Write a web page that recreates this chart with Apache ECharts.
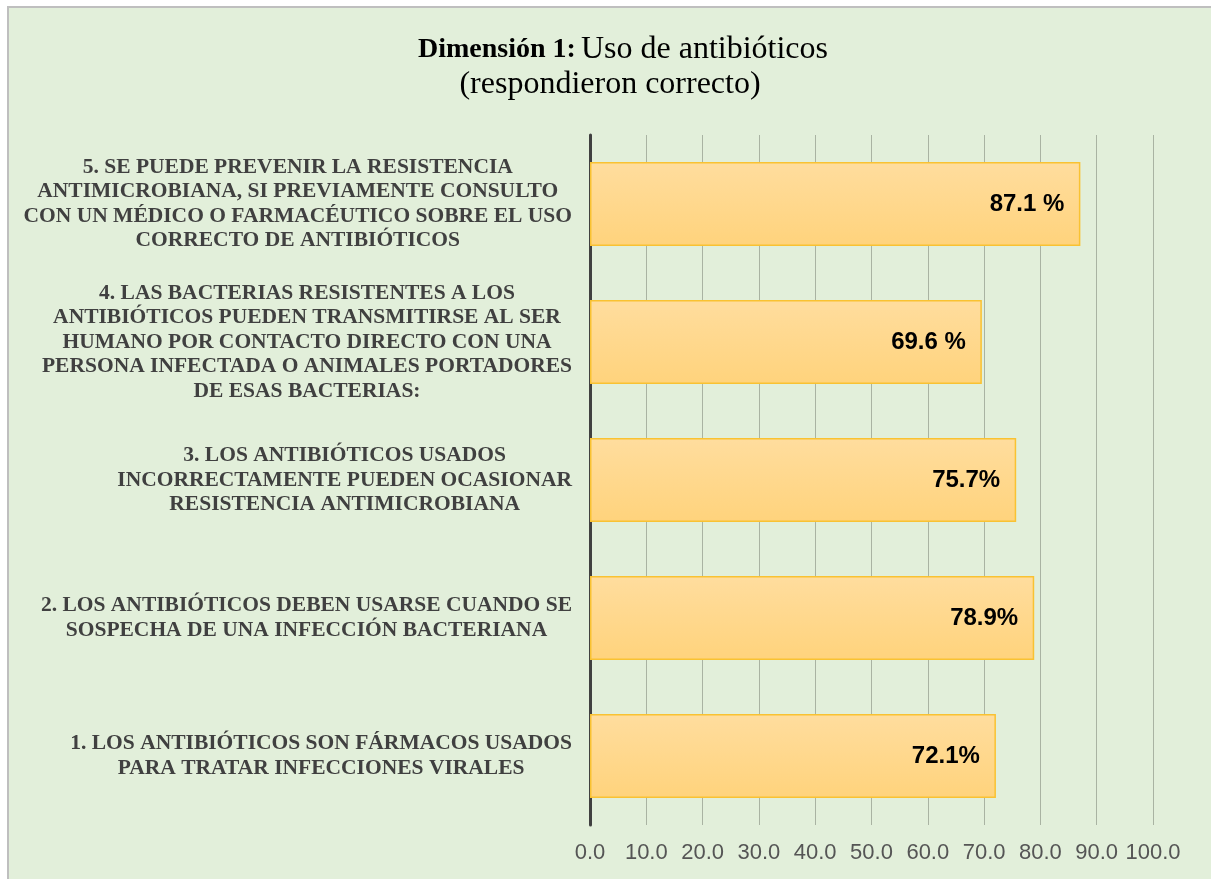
<!DOCTYPE html>
<html>
<head>
<meta charset="utf-8">
<script src="https://cdn.jsdelivr.net/npm/echarts@6/dist/echarts.min.js"></script>
<style>
	html, body { margin: 0; padding: 0; background: #ffffff; overflow: hidden; }
	#wrap {
		position: absolute; left: 7px; top: 6px;
		border-left: 2px solid #bfbfbf; border-top: 2px solid #bfbfbf;
	}
	#chart { width: 1202px; height: 871px; }
</style>
</head>
<body>
<div id="wrap"><div id="chart"></div></div>
<script>
	// preguntas (de abajo hacia arriba)
	var preguntas = [
		'1. LOS ANTIBIÓTICOS SON FÁRMACOS USADOS\nPARA TRATAR INFECCIONES VIRALES',
		'2. LOS ANTIBIÓTICOS DEBEN USARSE CUANDO SE\nSOSPECHA DE UNA INFECCIÓN BACTERIANA',
		'3. LOS ANTIBIÓTICOS USADOS\nINCORRECTAMENTE PUEDEN OCASIONAR\nRESISTENCIA ANTIMICROBIANA',
		'4. LAS BACTERIAS RESISTENTES A LOS\nANTIBIÓTICOS PUEDEN TRANSMITIRSE AL SER\nHUMANO POR CONTACTO DIRECTO CON UNA\nPERSONA INFECTADA O ANIMALES PORTADORES\nDE ESAS BACTERIAS:',
		'5. SE PUEDE PREVENIR LA RESISTENCIA\nANTIMICROBIANA, SI PREVIAMENTE CONSULTO\nCON UN MÉDICO O FARMACÉUTICO SOBRE EL USO\nCORRECTO DE ANTIBIÓTICOS'
	];
	var porcentajes = [72.1, 78.9, 75.7, 69.6, 87.1];
	var etiquetas = ['72.1%', '78.9%', '75.7%', '69.6 %', '87.1 %'];

	var myChart = echarts.init(document.getElementById('chart'));

	myChart.setOption({
		backgroundColor: '#e2efda',
		animation: false,
		title: {
			left: 'center',
			top: 19,
			text: '{b|Dimensión 1:} {n|Uso de antibióticos}\n{n|(respondieron correcto)}',
			textStyle: {
				rich: {
					b: { fontFamily: 'Liberation Serif', fontWeight: 'bold', fontSize: 28, color: '#000', lineHeight: 35, padding: [0, 0, 0, 26] },
					n: { fontFamily: 'Liberation Serif', fontWeight: 'normal', fontSize: 32, color: '#000', lineHeight: 35 }
				}
			}
		},
		grid: {
			left: 581,
			right: 58,
			top: 127,
			bottom: 54
		},
		xAxis: {
			type: 'value',
			min: 0,
			max: 100,
			interval: 10,
			axisLine: { show: false },
			axisTick: { show: false },
			axisLabel: {
				margin: 17,
				fontFamily: 'Liberation Sans',
				fontSize: 22,
				color: '#555555',
				formatter: function (v) { return v.toFixed(1); }
			},
			splitLine: { lineStyle: { color: '#a9b3a2', width: 1 } }
		},
		yAxis: {
			type: 'category',
			data: preguntas,
			axisLine: { show: true, lineStyle: { color: '#404040', width: 3 } },
			axisTick: { show: false },
			axisLabel: {
				margin: 18,
				align: 'right',
				formatter: function (v) {
					return v.split('\n').map(function (l) { return '{c|' + l + '}'; }).join('\n');
				},
				rich: {
					c: {
						align: 'center',
						fontFamily: 'Liberation Serif',
						fontWeight: 'bold',
						fontSize: 21.5,
						lineHeight: 24.5,
						color: '#404040'
					}
				}
			}
		},
		series: [{
			type: 'bar',
			data: porcentajes,
			barWidth: 84,
			itemStyle: {
				color: new echarts.graphic.LinearGradient(0, 0, 0, 1, [
					{ offset: 0, color: '#ffdd9e' },
					{ offset: 1, color: '#ffd37c' }
				]),
				borderColor: '#f9c232',
				borderWidth: 1.5
			},
			label: {
				show: true,
				position: 'insideRight',
				distance: 16,
				fontFamily: 'Liberation Sans',
				fontWeight: 'bold',
				fontSize: 24,
				color: '#000',
				formatter: function (p) { return etiquetas[p.dataIndex]; }
			}
		}]
	});
</script>
</body>
</html>
